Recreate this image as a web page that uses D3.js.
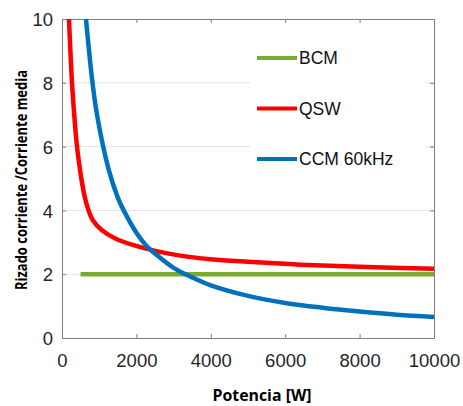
<!DOCTYPE html>
<html>
<head>
<meta charset="utf-8">
<script src="https://cdn.jsdelivr.net/npm/d3@7"></script>
<style>
  body { margin: 0; background: #fff; }
  svg { display: block; }
</style>
</head>
<body>
<div id="chart"></div>
<script>
// values
var xTicks = [0, 2000, 4000, 6000, 8000, 10000];
var yTicks = [0, 2, 4, 6, 8, 10];

var bcmP = [500, 10000];
var bcmV = [2.0, 2.0];

var qswP = [188, 269, 340, 403, 493, 556, 620, 699, 824, 1075, 1434, 1926, 2509, 3136, 4000, 5000, 6400, 8000, 10000];
var qswV = [10, 8.0, 6.83, 6.0, 5.2, 4.75, 4.38, 4.05, 3.7, 3.38, 3.12, 2.91, 2.73, 2.59, 2.47, 2.39, 2.30, 2.23, 2.17];

var ccmP = [645, 800, 941, 1250, 1500, 1658, 2000, 2285, 2500, 3000, 3500, 4000, 5000, 6000, 7000, 8000, 9000, 10000];
var ccmV = [10, 8.2, 7.0, 5.3, 4.4, 4.0, 3.3, 2.87, 2.65, 2.2, 1.9, 1.65, 1.32, 1.1, 0.95, 0.83, 0.73, 0.66];

var seriesNames = ["BCM", "QSW", "CCM 60kHz"];
var seriesColors = ["#77ac30", "#ff0000", "#0072bd"];

var W = 463, H = 406;
var pLeft = 62, pRight = 434, pTop = 19, pBottom = 338;

var svg = d3.select("#chart").append("svg")
    .attr("width", W).attr("height", H);

var x = d3.scaleLinear().domain([0, 10000]).range([pLeft, pRight]);
var y = d3.scaleLinear().domain([0, 10]).range([pBottom, pTop]);

// horizontal grid
svg.append("g").selectAll("line")
    .data(yTicks.slice(1, -1))
    .enter().append("line")
    .attr("x1", pLeft).attr("x2", pRight)
    .attr("y1", function(d){ return y(d); })
    .attr("y2", function(d){ return y(d); })
    .attr("stroke", "#e3e3e3").attr("stroke-width", 1);

var axisColor = "#7f7f7f";
var tickFont = "'Liberation Sans', Arial, sans-serif";

// axes with inward ticks
var gx = svg.append("g").attr("transform", "translate(0," + pBottom + ")")
    .call(d3.axisBottom(x).tickValues(xTicks).tickSizeInner(-4).tickSizeOuter(0).tickPadding(11).tickFormat(d3.format("d")));
var gy = svg.append("g").attr("transform", "translate(" + pLeft + ",0)")
    .call(d3.axisLeft(y).tickValues(yTicks).tickSizeInner(-4).tickSizeOuter(0).tickPadding(9).tickFormat(d3.format("d")));
var gxt = svg.append("g").attr("transform", "translate(0," + pTop + ")")
    .call(d3.axisTop(x).tickValues(xTicks).tickSizeInner(-4).tickSizeOuter(0).tickFormat(""));
var gyr = svg.append("g").attr("transform", "translate(" + pRight + ",0)")
    .call(d3.axisRight(y).tickValues(yTicks).tickSizeInner(-4).tickSizeOuter(0).tickFormat(""));

[gx, gy, gxt, gyr].forEach(function(g){
    g.select(".domain").attr("stroke", axisColor);
    g.selectAll(".tick line").attr("stroke", axisColor);
    g.selectAll(".tick text").attr("fill", "#262626")
        .style("font-family", tickFont).style("font-size", "18.5px");
});
gx.selectAll(".tick text").attr("dy", "0.95em");
gy.selectAll(".tick text").attr("dy", "0.36em");

// legend box (white, hides grid)
svg.append("rect")
    .attr("x", 250).attr("y", 36).attr("width", 176).attr("height", 148)
    .attr("fill", "#fff");

// series
var line = d3.line()
    .x(function(d){ return x(d[0]); })
    .y(function(d){ return y(d[1]); })
    .curve(d3.curveCatmullRom.alpha(0.5));

svg.append("clipPath").attr("id", "plotclip")
    .append("rect").attr("x", pLeft).attr("y", pTop - 1)
    .attr("width", pRight - pLeft).attr("height", pBottom - pTop + 1);

var data = [d3.zip(bcmP, bcmV), d3.zip(qswP, qswV), d3.zip(ccmP, ccmV)];

svg.append("g").attr("clip-path", "url(#plotclip)")
    .selectAll("path").data(data)
    .enter().append("path")
    .attr("d", line)
    .attr("fill", "none")
    .attr("stroke", function(d, i){ return seriesColors[i]; })
    .attr("stroke-width", 4.5);

// legend
var leg = svg.append("g").selectAll("g")
    .data(seriesNames)
    .enter().append("g")
    .attr("transform", function(d, i){ return "translate(257," + (58 + i * 50.5) + ")"; });
leg.append("line")
    .attr("x1", 0).attr("x2", 40).attr("y1", 0).attr("y2", 0)
    .attr("stroke", function(d, i){ return seriesColors[i]; })
    .attr("stroke-width", 4);
leg.append("text")
    .attr("x", 42).attr("y", 0).attr("dy", "0.36em")
    .attr("fill", "#111")
    .style("font-family", tickFont).style("font-size", "17.5px")
    .text(function(d){ return d; });

// axis titles
var titleFont = "'Open Sans', 'Noto Sans', sans-serif";
svg.append("text")
    .attr("x", 262).attr("y", 401)
    .attr("text-anchor", "middle")
    .attr("textLength", 99).attr("lengthAdjust", "spacingAndGlyphs")
    .style("font-family", titleFont).style("font-weight", "bold").style("font-size", "15.5px")
    .attr("fill", "#000")
    .text("Potencia [W]");
svg.append("text")
    .attr("transform", "translate(27,180) rotate(-90)")
    .attr("text-anchor", "middle")
    .attr("textLength", 220).attr("lengthAdjust", "spacingAndGlyphs")
    .style("font-family", titleFont).style("font-weight", "bold").style("font-size", "15.5px")
    .attr("fill", "#000")
    .text("Rizado corriente /Corriente media");
</script>
</body>
</html>
